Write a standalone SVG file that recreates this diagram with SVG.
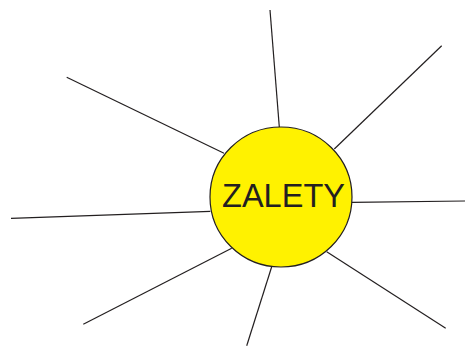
<svg xmlns="http://www.w3.org/2000/svg" width="465" height="346" viewBox="0 0 465 346">
<style>
.ray{stroke:#231f20;stroke-width:1.2;fill:none}
.hub{fill:#fff200;stroke:#231f20;stroke-width:1.2}
.lbl{font-family:"Liberation Sans",Arial,sans-serif;font-size:32.5px;fill:#231f20}
</style>
<rect width="465" height="346" fill="#ffffff"/>
<g id="connectors">
<line class="ray" x1="270" y1="10" x2="279.3" y2="127"/>
<line class="ray" x1="441.7" y1="45.7" x2="334.3" y2="149"/>
<line class="ray" x1="352" y1="202.3" x2="465" y2="201"/>
<line class="ray" x1="326.7" y1="251.7" x2="445.7" y2="328.3"/>
<line class="ray" x1="271.7" y1="266.7" x2="246.7" y2="345.7"/>
<line class="ray" x1="231.7" y1="248.3" x2="83.3" y2="324.3"/>
<line class="ray" x1="210.3" y1="211.3" x2="11" y2="218.3"/>
<line class="ray" x1="224" y1="153.3" x2="66.7" y2="77.3"/>
</g>
<g id="hub">
<ellipse class="hub" cx="281" cy="197" rx="71" ry="70"/>
<text class="lbl" x="283.5" y="207.3" text-anchor="middle">ZALETY</text>
</g>
</svg>
